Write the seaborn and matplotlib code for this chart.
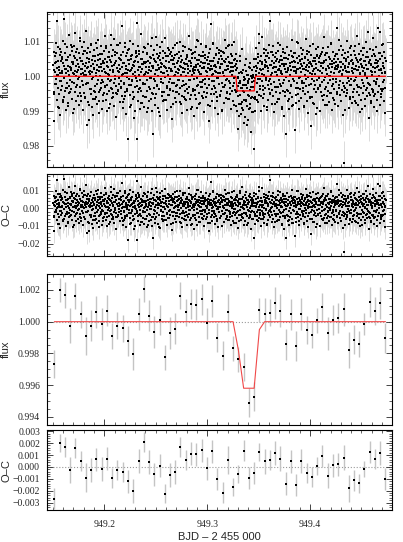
import matplotlib
matplotlib.use("Agg")
import matplotlib.pyplot as plt
from matplotlib.ticker import MultipleLocator, FuncFormatter
import numpy as np
import pandas as pd
import seaborn as sns

# ---------------------------------------------------------------------------
# Data
# ---------------------------------------------------------------------------
# unbinned light curve: first / last time stamp and residuals (units of 1e-4)
t_first, t_last = 949.1505, 949.4735
flux_err = 0.0065

resid_e4 = [
    32, -45, 71, -130, 12, 58, -22, 95, -8, 40, -67, 24, 160, -35, 5, 83, -90, 18, -52, 61, 9, -110, 44, -15, 70,
    -28, 50, 15, -74, 102, 37, -5, -60, 165, 22, -41, 66, -98, 8, 47, -19, 84, -33, 29, -85, 55, 3, 118, -48, 26,
    60, -12, 91, -37, 18, 72, -64, 40, 10, -105, 35, 88, -20, 57, -44, 14, 125, -70, 31, 2, 79, -26, 46, -58, 19,
    -9, 67, 28, -83, 52, 110, -31, 7, 43, -56, 85, 21, -14, 63, -97, 34, 4, 99, -47, 16, 74, -62, 38, -23, 130,
    25, -140, 54, -18, 80, -75, 11, 42, -126, 69, -36, 6, 93, -51, 30, -88, 48, 13, -112, 59, -3, 77, -42, 20, -66,
    45, -27, 8, 96, -59, 33, -81, 17, 62, -11, 104, -46, 27, -71, 50, 1, -39, 87, -20, 36, -94, 64, 15, -55, 39,
    -16, 73, -49, 22, 115, -30, 51, -68, 9, 82, -24, 41, -101, 56, -7, 28, 70, -43, 4, -79, 47, 19, -35, 90, -12,
    58, -63, 30, 12, -48, 76, -19, 107, -86, 38, 2, 61, -29, 45, -117, 24, 68, -52, 14, 89, -40, 32, -6, 53, -73,
    21, 97, -34, 46, -13, 145, -57, 26, -92, 6, 71, -21, 39, -65, 84, 10, -44, 57, -108, 29, -2, 66, -37, 18, 48,
    -180, 35, -9, 78, -53, 15, 102, -26, 49, -84, 23, -15, 62, -46, 7, 94, -61, 31, -119, 43, 12, -32, 73, -4, 55,
    -180, 154, -27, 40, -70, 17, 86, -38, 5, 63, -95, 28, -11, 50, 121, -43, 34, -77, 20, 69, -18, -56, 42, 3, -89,
    37, -22, 81, -61, 26, 11, -41, 67, -104, 44, 8, 92, -30, 19, -72, 55, -5, 38, -64, 87, 14, -47, 29, -99, 60,
    -166, 23, 49, -33, 75, -14, 6, -82, 41, 113, -50, 17, -24, 64, -90, 32, 1, 58, -37, 20, -113, 46, 84, -8, 27,
    13, -58, 36, 99, -20, 52, -72, 9, 30, -45, 68, -3, 110, -67, 24, 43, -96, 15, -29, 57, 5, -54, 76, -16, 40,
    -36, 65, -7, 21, -87, 48, 16, -123, 59, 34, -42, 80, -19, 2, 53, -62, 27, 91, -46, 11, -75, 39, -25, 63, 8,
    44, -11, 70, -52, 19, 98, -35, 31, -81, 57, 4, -28, 47, -106, 24, 73, -14, 38, -59, 12, 85, -41, 22, -69, 50,
    -23, 34, -97, 61, 8, -47, 29, 117, -31, 45, -66, 15, -10, 76, -54, 37, 3, -88, 52, 20, -36, 66, -115, 26, 10,
    54, -40, 18, 83, -64, 27, -6, 46, -92, 35, 101, -25, 13, -48, 62, -17, 31, -78, 41, 7, 94, -57, 24, -30, 58,
    -12, 71, -44, 25, -103, 39, 60, -21, 14, 88, -59, 2, 48, -33, 23, -82, 55, -9, 35, -128, 44, 17, 78, -50, 30,
    150, -37, 21, -70, 43, 6, 95, -28, 52, -15, 33, -90, 16, 64, -46, 27, -4, 80, -60, 38, 10, -108, 49, -22, 67,
    -55, 28, 9, 74, -41, 57, -18, 35, -98, 12, 69, -32, 45, 1, -77, 40, 104, -26, 19, -63, 51, -8, 30, -45, 86,
    20, -66, 42, -13, 89, -35, 11, -51, 63, 26, -94, 37, 4, 58, -28, 15, -72, 47, -19, 99, -40, 31, -3, 65, -84,
    46, -20, 77, -57, 13, 36, -109, 50, 22, -38, 85, -11, 29, -67, 8, 54, -31, 120, -48, 18, 0, 61, -25, 39, -92,
    33, -74, 16, 56, -26, 93, -44, 7, 47, -83, 24, -12, 70, -53, 34, 2, -39, 79, -21, 44, -118, 25, 60, -17, 12,
    -60, 41, -166, 28, 68, -35, 14, -90, 51, 5, 82, -46, 23, -20, 63, -73, 37, 10, -55, 96, -29, 43, -7, 18, -101,
    57, -14, 35, 112, -62, 20, -40, 66, 4, -85, 48, 27, -33, 75, -11, 40, -96, 30, 58, -24, 15, -69, 52, 91, -37,
    -8, 160, -48, 32, -21, 71, 9, -79, 45, 23, -58, 87, -16, 38, -104, 56, 12, -31, 66, -44, 26, 3, -73, 49, 18,
    73, -30, 40, -64, 17, -10, 90, -49, 31, 58, -27, 14, -88, 47, 6, -41, 78, -19, 34, -115, 52, 21, -56, 68, -2,
    -166, 36, 11, -39, 84, -71, 25, 49, -15, 62, -93, 30, 4, -47, 72, 19, -28, 103, -60, 41, -9, 55, -82, 27, 14,
    45, -155, 28, 66, -34, 8, -77, 53, 20, -20, 97, -52, 37, -6, 59, -95, 24, 43, -38, 12, 81, -63, 30, -13, 50,
    -42, 22, 75, -18, 39, -86, 56, 3, -51, 108, -29, 17, 64, -70, 33, -1, 47, -105, 26, 70, -24, 41, -60, 9, 36,
    -143, 61, -8, 29, -61, 44, 15, 92, -37, 21, -79, 53, 6, -25, 78, -44, 34, -12, 57, -91, 18, 85, -33, 40, -4,
    52, -27, 16, -99, 63, 30, -45, 10, 71, -16, 38, -68, 24, 114, -54, 42, -3, 60, -83, 19, 48, -30, 7, -57, 67,
    -19, 83, -41, 25, 2, -73, 51, 34, -12, 96, -48, 13, -97, 45, 28, -22, 69, -62, 37, 8, -36, 58, 20, -80, 31,
    64, -7, 140, -46, 22, 49, -86, 33, -24, 76, 11, -53, 40, -14, 87, -70, 26, 5, -40, 61, -111, 35, 17, -28, 54,
    -250, 30, -33, 68, -58, 15, 43, -20, 101, -47, 27, -4, 56, -91, 38, 13, -65, 80, -26, 44, -9, 62, -78, 23, 47,
    9, -61, 36, -15, 74, -38, 20, 88, -70, 31, -1, 53, -44, 117, -25, 40, -84, 18, 65, -32, 27, -102, 46, 6, 72,
    -34, 51, -12, 29, -93, 60, 14, -49, 82, 25, -27, 44, -64, 10, 98, -39, 33, -5, 70, -57, 21, -18, 55, -120, 37,
    42, -24, 79, -54, 16, 35, -76, 57, 3, -37, 110, -46, 28, -13, 63, -88, 39, 12, -50, 84, -21, 48, -67, 26, -8,
    140, -45, 31, 67, -29, 18, -84, 49, 126, -36, 22, -61, 58, 8, -42, 92, -17, 38, -72, 24, 71, -33, 13, -107, 45,
]

# second, interleaved set of exposures over the same span (units of 1e-4)
resid2_e4 = [
    18, -52, 37, 66, -21, 4, -88, 45, 27, -13, 79, -40, 10, 56, -69, 31, -6, 92, -35, 22, 48, -77, 14, -29, 61,
    -44, 25, 83, -17, 40, -95, 7, 52, -31, 69, 12, -58, 34, -3, 101, -47, 20, -72, 43, 9, -26, 74, -61, 29, 5,
    67, -19, 28, -84, 50, 16, -38, 91, -9, 36, -66, 23, 58, -45, 2, 80, -23, 47, -107, 15, 64, -34, 26, -12, 44,
    -71, 39, 11, -27, 86, -52, 30, 6, -90, 55, -15, 42, 120, -36, 19, -60, 33, 70, -8, -48, 24, 89, -41, 13, -22,
    50, -30, 62, 3, -74, 38, -18, 97, -56, 21, 8, -43, 75, -25, 46, -87, 17, 59, -10, 32, -64, 41, 1, -99, 68,
    -14, 57, -46, 26, 73, -33, 12, -78, 49, 35, -21, 84, -59, 7, 40, -11, 63, -92, 28, 17, -37, 54, -5, 110, -50,
    31, -8, 44, -62, 19, 90, -27, 52, -104, 23, 66, -16, 38, -45, 9, 72, -68, 27, -2, 57, -34, 14, 81, -53, 25,
    -39, 70, 16, -20, 48, -81, 34, 5, 61, -29, 96, -44, 21, -10, 53, -75, 42, 28, -57, 11, 87, -24, 36, -65, 0,
    55, -36, 20, 78, -12, 43, -93, 29, 64, -41, 15, -7, 71, -55, 33, 103, -28, 18, -80, 47, 6, -32, 58, -17, 39,
    -63, 27, 52, -9, 85, -47, 11, 36, -24, 68, -86, 22, 45, -14, 3, 94, -51, 30, -35, 60, 13, -70, 41, -4, 76,
    24, -57, 35, -100, 49, 8, 66, -31, 17, -12, 82, -48, 29, 55, -66, 37, -20, 14, 91, -42, 26, -6, -83, 50, 19,
    -28, 62, -15, 40, -73, 23, 99, -38, 9, 51, -55, 32, -3, 74, -30, 18, -97, 45, 27, -16, 65, -49, 12, 37, -62,
    46, -21, 87, -44, 15, 30, -68, 56, -9, 122, -36, 21, -58, 42, 7, -27, 78, -52, 33, -5, 59, -88, 24, 68, -14,
    -50, 33, 4, 70, -39, 61, -17, 26, -79, 44, 13, -31, 95, -64, 20, 48, -23, 8, -94, 36, 71, -12, 29, -46, 53,
    12, 84, -42, 19, -65, 38, 3, -25, 57, -85, 28, 66, -13, 41, -54, 16, 100, -33, 22, -71, 47, -2, 35, -19, 63,
    -34, 21, -89, 54, 27, -7, 73, -46, 14, 39, -62, 88, -22, 31, 6, -76, 52, -15, 43, -108, 25, 60, -38, 17, -3,
    58, -26, 37, 9, -58, 82, -11, 45, -37, 20, 67, -83, 30, -18, 55, 1, -47, 93, -28, 36, -9, 49, -69, 23, 42,
    -17, 63, -51, 28, 105, -33, 16, -72, 40, 6, -20, 77, -44, 25, -97, 51, 12, -39, 69, -14, 34, -60, 86, -24, 15,
    39, -45, 22, -11, 60, -78, 47, 18, -30, 92, -53, 10, 35, -67, 26, 80, -19, 44, -86, 3, 56, -35, 21, 127, -48,
    -22, 48, -70, 32, 11, -40, 76, -57, 24, 59, -16, 38, -99, 45, 2, -28, 68, -51, 17, 89, -37, 30, -12, 54, 8,
]

# transit model (vertices)
model_t = [t_first, 949.3280, 949.3292, 949.3458, 949.3470, t_last]
model_f = [1.0, 1.0, 0.9958, 0.9958, 1.0, 1.0]

# binned light curve
bin_t = [
    949.1515, 949.1566, 949.1617, 949.1668, 949.1719, 949.1771, 949.1822, 949.1873,
    949.1924, 949.1975, 949.2026, 949.2077, 949.2128, 949.2179, 949.2230, 949.2282,
    949.2333, 949.2384, 949.2435, 949.2486, 949.2537, 949.2588, 949.2639, 949.2690,
    949.2741, 949.2793, 949.2844, 949.2895, 949.2946, 949.2997, 949.3048, 949.3099,
    949.3150, 949.3201, 949.3252, 949.3304, 949.3355, 949.3406, 949.3457, 949.3508,
    949.3559, 949.3610, 949.3661, 949.3712, 949.3763, 949.3815, 949.3866, 949.3917,
    949.3968, 949.4019, 949.4070, 949.4121, 949.4172, 949.4223, 949.4274, 949.4326,
    949.4377, 949.4428, 949.4479, 949.4530, 949.4581, 949.4632, 949.4683, 949.4734,
]
bin_flux = [
    0.99733, 1.00200, 1.00168, 0.99975, 1.00162, 1.00046, 0.99909, 0.99975, 1.00063, 0.99985,
    1.00069, 0.99909, 0.99975, 0.99958, 0.99880, 0.99796, 1.00048, 1.00208, 1.00038, 0.99937,
    1.00010, 0.99775, 0.99930, 0.99956, 1.00164, 1.00059, 1.00112, 1.00107, 1.00140, 0.99989,
    1.00130, 0.99899, 0.99785, 1.00059, 0.99832, 0.99762, 0.99716, 0.99488, 0.99526, 1.00074,
    1.00046, 1.00057, 1.00118, 1.00069, 0.99857, 1.00046, 0.99846, 1.00050, 0.99947, 0.99918,
    1.00008, 1.00093, 0.99926, 1.00013, 1.00021, 1.00078, 0.99819, 0.99886, 0.99861, 0.99985,
    1.00124, 1.00067, 1.00116, 0.99899,
]
bin_err = [
    0.00086, 0.00074, 0.00084, 0.00110, 0.00084, 0.00084, 0.00120, 0.00100, 0.00100, 0.00100,
    0.00097, 0.00084, 0.00084, 0.00087, 0.00095, 0.00100, 0.00100, 0.00082, 0.00100, 0.00100,
    0.00095, 0.00079, 0.00100, 0.00100, 0.00084, 0.00084, 0.00095, 0.00097, 0.00095, 0.00097,
    0.00100, 0.00090, 0.00090, 0.00115, 0.00078, 0.00077, 0.00088, 0.00092, 0.00092, 0.00077,
    0.00105, 0.00084, 0.00100, 0.00105, 0.00097, 0.00097, 0.00092, 0.00100, 0.00086, 0.00084,
    0.00077, 0.00090, 0.00105, 0.00095, 0.00095, 0.00103, 0.00114, 0.00092, 0.00082, 0.00068,
    0.00095, 0.00087, 0.00100, 0.00095,
]
bin_model = [1.0] * 35 + [0.9982, 0.9958, 0.9958, 0.9958, 0.9995] + [1.0] * 24

# ---------------------------------------------------------------------------
# Tables
# ---------------------------------------------------------------------------
t_a = np.linspace(t_first, t_last, len(resid_e4))
t_b = np.linspace(t_first + 0.0002, t_last - 0.0002, len(resid2_e4))
raw = pd.DataFrame({
    "t": np.concatenate([t_a, t_b]),
    "oc": np.array(resid_e4 + resid2_e4) * 1e-4,
})
raw["flux"] = np.interp(raw["t"], model_t, model_f) + raw["oc"]
model = pd.DataFrame({"t": model_t, "flux": model_f})

binned = pd.DataFrame({"t": bin_t, "flux": bin_flux, "err": bin_err, "model": bin_model})
binned["oc"] = binned["flux"] - binned["model"]

# ---------------------------------------------------------------------------
# Style
# ---------------------------------------------------------------------------
sns.set_theme(style="ticks")
plt.rcParams.update({
    "font.family": ["Liberation Serif", "DejaVu Serif"],
    "axes.linewidth": 0.8,
    "axes.edgecolor": "black",
    "xtick.direction": "in",
    "ytick.direction": "in",
    "xtick.top": True,
    "ytick.right": True,
    "xtick.labelsize": 7,
    "ytick.labelsize": 7,
    "xtick.major.size": 4,
    "ytick.major.size": 4,
    "xtick.minor.size": 2,
    "ytick.minor.size": 2,
    "xtick.major.width": 0.6,
    "ytick.major.width": 0.6,
    "xtick.minor.width": 0.5,
    "ytick.minor.width": 0.5,
})

SANS = ["Liberation Sans", "DejaVu Sans"]


def _fmt(decimals):
    def f(v, pos):
        s = f"{v:.{decimals}f}"
        if float(s) == 0:
            s = f"{0:.{decimals}f}"
        return s.replace("-", "\u2212")
    return FuncFormatter(f)


def _style(ax, ylim, major, minor, decimals, ylabel, show_x=False):
    ax.set_xlim(949.1443, 949.4797)
    ax.set_ylim(*ylim)
    ax.xaxis.set_major_locator(MultipleLocator(0.1))
    ax.xaxis.set_minor_locator(MultipleLocator(0.01))
    ax.yaxis.set_major_locator(MultipleLocator(major))
    ax.yaxis.set_minor_locator(MultipleLocator(minor))
    ax.yaxis.set_major_formatter(_fmt(decimals))
    ax.xaxis.set_major_formatter(FuncFormatter(lambda v, p: f"{v:.1f}"))
    ax.tick_params(axis="x", which="both", top=True, labelbottom=show_x, pad=7)
    ax.tick_params(axis="y", which="both", right=True, pad=5)
    ax.set_ylabel(ylabel, fontsize=8, family=SANS)
    ax.yaxis.set_label_coords(-0.104, 0.5)
    ax.set_xlabel("")


fig = plt.figure(figsize=(4.03, 5.42), dpi=100)
ax1 = fig.add_axes([0.1166, 0.6919, 0.856, 0.2860])
ax2 = fig.add_axes([0.1166, 0.5277, 0.856, 0.1513])
ax3 = fig.add_axes([0.1166, 0.2159, 0.856, 0.2786])
ax4 = fig.add_axes([0.1166, 0.0590, 0.856, 0.1476])

# ---------------------------------------------------------------------------
# Panel 1 — raw flux
# ---------------------------------------------------------------------------
ax1.errorbar(raw["t"], raw["flux"], yerr=flux_err, fmt="none",
             ecolor="#d6d6d6", elinewidth=0.6, zorder=1)
sns.scatterplot(data=raw, x="t", y="flux", ax=ax1, marker="s", s=3.0,
                color="black", linewidth=0, zorder=2)
sns.lineplot(data=model, x="t", y="flux", ax=ax1, sort=False, color="red",
             linewidth=0.9, zorder=3)
_style(ax1, (0.9739, 1.0185), 0.01, 0.002, 2, "flux")

# ---------------------------------------------------------------------------
# Panel 2 — raw residuals
# ---------------------------------------------------------------------------
ax2.errorbar(raw["t"], raw["oc"], yerr=flux_err, fmt="none",
             ecolor="#d6d6d6", elinewidth=0.6, zorder=1)
sns.scatterplot(data=raw, x="t", y="oc", ax=ax2, marker="s", s=3.0,
                color="black", linewidth=0, zorder=2)
_style(ax2, (-0.027, 0.0194), 0.01, 0.002, 2, "O\u2013C")

# ---------------------------------------------------------------------------
# Panel 3 — binned flux
# ---------------------------------------------------------------------------
ax3.axhline(1.0, color="#999999", linestyle=":", linewidth=0.8, zorder=0)
ax3.errorbar(binned["t"], binned["flux"], yerr=binned["err"], fmt="none",
             ecolor="#c4c4c4", elinewidth=1.0, zorder=1)
sns.lineplot(data=binned, x="t", y="model", ax=ax3, sort=False,
             color="#f04848", linewidth=0.8, zorder=2)
sns.scatterplot(data=binned, x="t", y="flux", ax=ax3, marker="s", s=2.6,
                color="black", linewidth=0, zorder=3)
_style(ax3, (0.99348, 1.00301), 0.002, 0.0005, 3, "flux")

# ---------------------------------------------------------------------------
# Panel 4 — binned residuals
# ---------------------------------------------------------------------------
ax4.axhline(0.0, color="#999999", linestyle=":", linewidth=0.8, zorder=0)
ax4.errorbar(binned["t"], binned["oc"], yerr=binned["err"], fmt="none",
             ecolor="#c4c4c4", elinewidth=1.0, zorder=1)
sns.scatterplot(data=binned, x="t", y="oc", ax=ax4, marker="s", s=2.6,
                color="black", linewidth=0, zorder=3)
_style(ax4, (-0.00362, 0.0031), 0.001, 0.0002, 3, "O\u2013C", show_x=True)
ax4.set_xlabel("BJD \u2013 2 455 000", fontsize=8, family=SANS, labelpad=2)

fig.savefig("out.png", dpi=100)
